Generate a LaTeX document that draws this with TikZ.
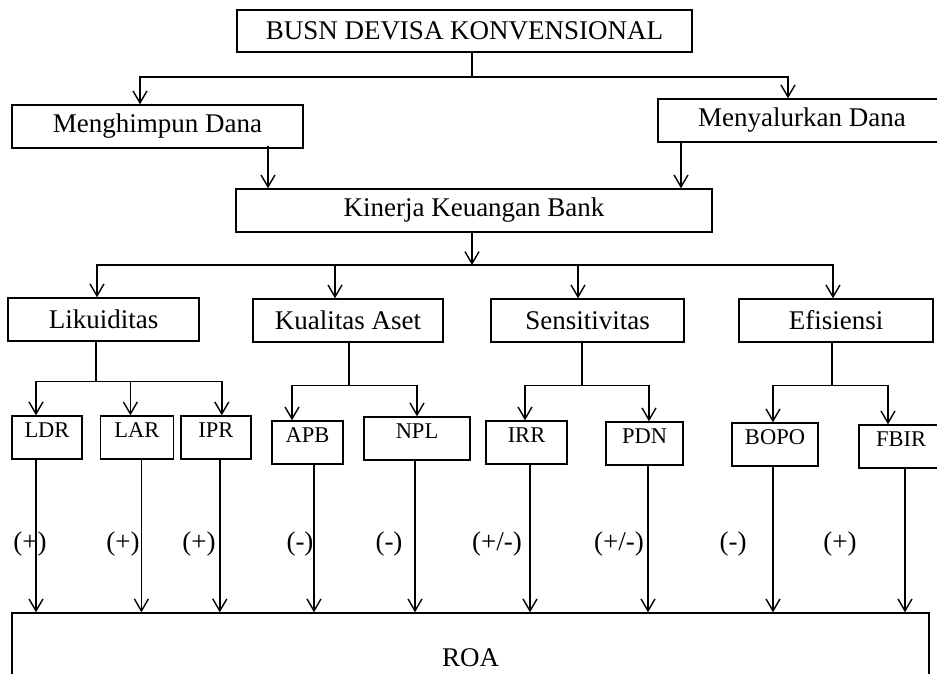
\documentclass[tikz,border=0pt]{standalone}
\usepackage{fontspec}
\setmainfont{Liberation Serif}
\usetikzlibrary{positioning, calc, arrows.meta}

\begin{document}
\begin{tikzpicture}
    [x=1pt, y=-1pt,
    bignode/.style={rectangle, draw=black, line width=1.4pt, inner sep=0pt, minimum height=43pt, font=\fontsize{27}{32}\selectfont},
    smallnode/.style={rectangle, draw=black, line width=1.4pt, inner sep=0pt, text height=21pt, text depth=22pt, font=\fontsize{22.5}{27}\selectfont},
    signnode/.style={inner sep=0pt, font=\fontsize{27}{32}\selectfont},
    link/.style={line width=1.4pt},
    arrow/.style={link, -{Straight Barb[length=12pt, width=14pt]}},]

    \useasboundingbox (0,0) rectangle (937,673);

    %Nodes
    \node[bignode, minimum width=455pt, minimum height=42pt] (busn) at (464.5,31) {BUSN DEVISA KONVENSIONAL};
    \node[bignode, minimum width=291pt] (himpun) at (157.5,126.5) {Menghimpun Dana};
    \node[bignode, minimum width=288pt] (salur) at (802,120.5) {Menyalurkan Dana};
    \node[bignode, minimum width=476pt] (kinerja) at (474,210.5) {Kinerja Keuangan Bank};

    \node[bignode, minimum width=191pt] (likuid) at (103.5,319.5) {Likuiditas};
    \node[bignode, minimum width=190pt] (aset) at (348,320.5) {Kualitas Aset};
    \node[bignode, minimum width=193pt] (sensi) at (587.5,320.5) {Sensitivitas};
    \node[bignode, minimum width=194pt] (efis) at (836,320.5) {Efisiensi};

    \node[smallnode, minimum width=70pt] (ldr) at (47,437.5) {LDR};
    \node[smallnode, minimum width=73pt, right=17pt of ldr] (lar) {LAR};
    \node[smallnode, minimum width=70pt, right=6pt of lar] (ipr) {IPR};
    \node[smallnode, minimum width=71pt] (apb) at (307.5,442.5) {APB};
    \node[smallnode, minimum width=106pt] (npl) at (417,438.5) {NPL};
    \node[smallnode, minimum width=81pt] (irr) at (526.5,442.5) {IRR};
    \node[smallnode, minimum width=77pt] (pdn) at (644.5,443.5) {PDN};
    \node[smallnode, minimum width=86pt] (bopo) at (775,444.5) {BOPO};
    \node[smallnode, minimum width=84pt] (fbir) at (901,446.5) {FBIR};

    \node[bignode, minimum width=917pt, minimum height=90pt] (roa) at (470.5,658) {ROA};

    %Top part
    \coordinate (jbusn) at (472,77);
    \draw[link] (busn.south -| jbusn) -- (jbusn);
    \draw[arrow] (jbusn) -| ($(himpun.north)+(-17.5,0)$);
    \draw[arrow] (jbusn) -| ($(salur.north)+(-14,0)$);
    \draw[arrow] ($(himpun.south)+(110.5,-3)$) coordinate (h1) -- (h1 |- kinerja.north);
    \draw[arrow] ($(salur.south)+(-121,0)$) coordinate (s1) -- (s1 |- kinerja.north);

    \coordinate (jkin) at (472,265);
    \draw[arrow] (kinerja.south -| jkin) -- (jkin);
    \foreach \n/\dx in {likuid/-6.5, aset/-13, sensi/-9.5, efis/-3}
        \draw[arrow] (jkin) -| ($(\n.north)+(\dx,0)$);

    %Ratios
    \foreach \p/\px/\py in {likuid/-7.5/40, aset/1/43, sensi/-5.5/43, efis/-4/43}{
        \coordinate (j\p) at ($(\p.south)+(\px,\py)$);
        \draw[link] (\p.south -| j\p) -- (j\p);
    }
    \foreach \p/\n/\dx in {likuid/ldr/-11, likuid/lar/-6.5, likuid/ipr/6, aset/apb/-15.5, aset/npl/0,
        sensi/irr/-1.5, sensi/pdn/4.5, efis/bopo/-2, efis/fbir/-13}
        \draw[arrow] (j\p) -| ($(\n.north)+(\dx,0)$);

    %To ROA
    \foreach \n/\dx/\s/\lx in {ldr/-11/{(+)}/30, lar/4.5/{(+)}/123, ipr/4/{(+)}/199, apb/6.5/{(-)}/300, npl/-2/{(-)}/389,
        irr/3.5/{(+/-)}/497, pdn/3.5/{(+/-)}/619, bopo/-2/{(-)}/733, fbir/4/{(+)}/840}{
        \draw[arrow] ($(\n.south)+(\dx,0)$) coordinate (b\n) -- (b\n |- roa.north);
        \node[signnode] (sign\n) at (\lx,544) {\s};
    }
\end{tikzpicture}
\end{document}
